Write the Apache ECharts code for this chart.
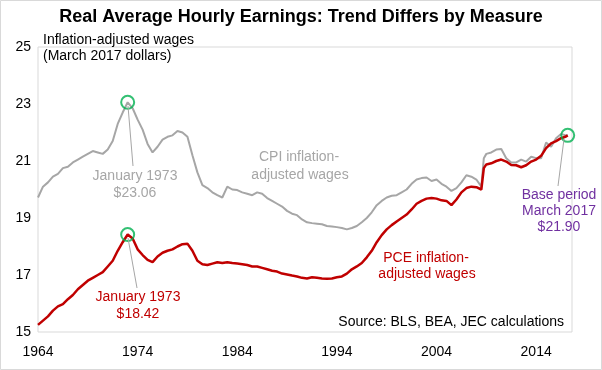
<!DOCTYPE html>
<html><head><meta charset="utf-8">
<script src="https://cdn.jsdelivr.net/npm/echarts@6/dist/echarts.min.js"></script>
<style>html,body{margin:0;padding:0;background:#fff}#c{width:602px;height:370px}</style>
</head><body><div id="c"></div>
<script>
// Decimal years for each observation
const years = [1964.0,1964.5,1965.0,1965.5,1966.0,1966.5,1967.0,1967.5,1968.0,1968.5,1969.0,1969.5,1970.0,1970.5,1971.0,1971.5,1972.0,1972.5,1973.0,1973.5,1974.0,1974.5,1975.0,1975.5,1976.0,1976.5,1977.0,1977.5,1978.0,1978.5,1979.0,1979.5,1980.0,1980.5,1981.0,1981.5,1982.0,1982.5,1983.0,1983.5,1984.0,1984.5,1985.0,1985.5,1986.0,1986.5,1987.0,1987.5,1988.0,1988.5,1989.0,1989.5,1990.0,1990.5,1991.0,1991.5,1992.0,1992.5,1993.0,1993.5,1994.0,1994.5,1995.0,1995.5,1996.0,1996.5,1997.0,1997.5,1998.0,1998.5,1999.0,1999.5,2000.0,2000.5,2001.0,2001.5,2002.0,2002.5,2003.0,2003.5,2004.0,2004.5,2005.0,2005.5,2006.0,2006.5,2007.0,2007.5,2008.0,2008.5,2008.75,2009.0,2009.5,2010.0,2010.5,2011.0,2011.5,2012.0,2012.5,2013.0,2013.5,2014.0,2014.5,2015.0,2015.5,2016.0,2016.5,2017.0,2017.17];
// CPI inflation-adjusted wages (March 2017 dollars)
const cpiWages = [19.72,20.1,20.25,20.45,20.55,20.75,20.8,20.95,21.05,21.15,21.25,21.35,21.3,21.25,21.4,21.7,22.3,22.7,23.06,22.85,22.45,22.1,21.6,21.3,21.5,21.75,21.85,21.9,22.05,22.0,21.85,21.2,20.6,20.15,20.05,19.9,19.8,19.72,20.1,20.0,19.98,19.9,19.85,19.8,19.9,19.85,19.7,19.6,19.5,19.4,19.25,19.15,19.1,18.95,18.85,18.82,18.8,18.78,18.72,18.7,18.68,18.65,18.6,18.65,18.72,18.85,19.0,19.2,19.45,19.6,19.72,19.78,19.8,19.9,20.0,20.2,20.35,20.4,20.42,20.3,20.35,20.2,20.1,19.95,20.05,20.25,20.5,20.45,20.35,20.1,21.1,21.25,21.3,21.4,21.42,21.1,20.95,20.95,21.05,20.98,21.15,21.1,21.1,21.65,21.5,21.8,21.95,21.9,21.9];
// PCE inflation-adjusted wages (March 2017 dollars)
const pceWages = [15.25,15.4,15.55,15.75,15.9,15.98,16.15,16.3,16.5,16.65,16.8,16.9,17.0,17.1,17.3,17.5,17.85,18.15,18.42,18.28,17.9,17.7,17.53,17.45,17.65,17.78,17.85,17.9,18.0,18.08,18.1,17.85,17.5,17.38,17.35,17.4,17.45,17.42,17.45,17.42,17.4,17.38,17.35,17.3,17.3,17.25,17.2,17.15,17.12,17.05,17.02,16.98,16.95,16.9,16.88,16.92,16.9,16.88,16.87,16.88,16.92,16.95,17.05,17.2,17.3,17.42,17.62,17.85,18.15,18.4,18.6,18.75,18.88,19.0,19.12,19.3,19.5,19.6,19.68,19.7,19.68,19.62,19.6,19.45,19.65,19.9,20.05,20.1,20.08,20.0,20.75,20.88,20.92,21.0,21.05,20.98,20.86,20.85,20.78,20.85,20.98,21.05,21.18,21.45,21.62,21.7,21.8,21.86,21.9];
// Highlighted points
const highlightYears = [1973.0, 1973.0, 2017.17];
const highlightValues = [23.06, 18.42, 21.90];
const xTicks = [1964, 1974, 1984, 1994, 2004, 2014];
const yTicks = [15, 17, 19, 21, 23, 25];

const FONT = "'Liberation Sans', Arial, sans-serif";
const chart = echarts.init(document.getElementById('c'), null, {renderer: 'canvas'});
const zip = (a, b) => a.map((v, i) => [v, b[i]]);

function txt(x, y, text, color, align, size, weight) {
  return {type: 'text', x: x, y: y, z: 100,
    style: {text: text, fill: color, font: (weight || 'normal') + ' ' + (size || 14) + 'px ' + FONT,
      textAlign: align || 'center', textVerticalAlign: 'middle', lineHeight: 16.5}};
}
function ln(x1, y1, x2, y2) {
  return {type: 'line', z: 90, shape: {x1: x1, y1: y1, x2: x2, y2: y2}, style: {stroke: '#a6a6a6', lineWidth: 1}};
}

chart.setOption({
  animation: false,
  backgroundColor: '#fff',
  grid: {left: 38, right: 30, top: 47, bottom: 38, show: true, borderColor: '#d9d9d9', borderWidth: 1},
  xAxis: {type: 'value', min: 1964, max: 2017.6, interval: 10,
    axisLine: {show: false}, axisTick: {show: false}, splitLine: {show: false},
    axisLabel: {color: '#000', fontFamily: FONT, fontSize: 14, margin: 13,
      formatter: v => xTicks.indexOf(v) >= 0 ? String(v) : ''}},
  yAxis: {type: 'value', min: 15, max: 25, interval: 2,
    axisLine: {show: false}, axisTick: {show: false}, splitLine: {show: false},
    axisLabel: {color: '#000', fontFamily: FONT, fontSize: 14, margin: 7,
      formatter: v => yTicks.indexOf(v) >= 0 ? String(v) : ''}},
  series: [
    {type: 'line', data: zip(years, cpiWages), symbol: 'none', lineStyle: {color: '#a6a6a6', width: 2}, z: 2},
    {type: 'line', data: zip(years, pceWages), symbol: 'none', lineStyle: {color: '#c00000', width: 2.5}, z: 3},
    {type: 'scatter', data: zip(highlightYears, highlightValues), symbol: 'circle', symbolSize: 13, z: 5,
      itemStyle: {color: 'rgba(0,0,0,0)', borderColor: '#00b050', borderWidth: 2}}
  ],
  graphic: [
    {type: 'rect', shape: {x: 0.5, y: 0.5, width: 601, height: 369}, style: {fill: 'none', stroke: '#d9d9d9', lineWidth: 1}, z: 0, silent: true},
    txt(301, 17, 'Real Average Hourly Earnings: Trend Differs by Measure', '#000', 'center', 18, 'bold'),
    txt(43, 40, 'Inflation-adjusted wages', '#000', 'left'),
    txt(43, 56, '(March 2017 dollars)', '#000', 'left'),
    ln(128, 106, 133, 166),
    txt(135, 176, 'January 1973', '#a6a6a6'),
    txt(135, 193, '$23.06', '#a6a6a6'),
    txt(299, 157, 'CPI inflation-', '#a6a6a6'),
    txt(300, 175, 'adjusted wages', '#a6a6a6'),
    ln(128, 238, 137, 288),
    txt(138, 297, 'January 1973', '#c00000'),
    txt(138, 314, '$18.42', '#c00000'),
    txt(426, 258, 'PCE inflation-', '#c00000'),
    txt(427, 274, 'adjusted wages', '#c00000'),
    ln(564, 139, 558, 186),
    txt(559, 195, 'Base period', '#7030a0'),
    txt(559, 211, 'March 2017', '#7030a0'),
    txt(559, 227, '$21.90', '#7030a0'),
    txt(564, 322, 'Source: BLS, BEA, JEC calculations', '#000', 'right')
  ]
});
</script></body></html>
